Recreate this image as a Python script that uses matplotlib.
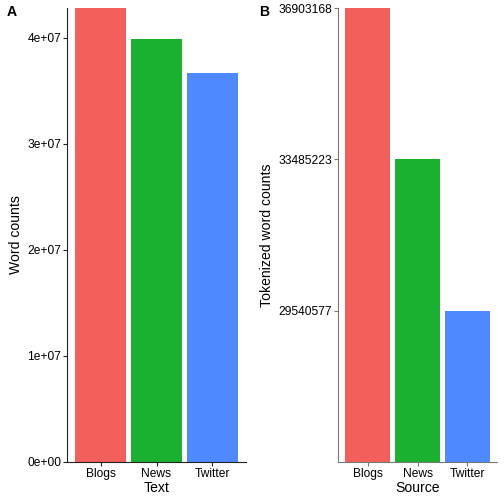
import matplotlib
matplotlib.use("Agg")
import matplotlib.pyplot as plt

plt.rcParams['font.family'] = ['Liberation Sans', 'DejaVu Sans']

sources = ["Blogs", "News", "Twitter"]
word_counts = [42.8e6, 39.9e6, 36.7e6]
tokenized_counts = [36903168, 33485223, 29540577]
colors = ["#F35F5B", "#19B12F", "#4F89FF"]
a_ticks = [0, 1e7, 2e7, 3e7, 4e7]
a_ticklabels = ["0e+00", "1e+07", "2e+07", "3e+07", "4e+07"]

W = H = 504
fig = plt.figure(figsize=(7, 7), dpi=72)

def ax_rect(l, r, t, b):
    return [l / W, 1 - b / H, (r - l) / W, (b - t) / H]

def style(ax, axcol):
    for s in ["top", "right"]:
        ax.spines[s].set_visible(False)
    for s in ["left", "bottom"]:
        ax.spines[s].set_color(axcol)
        ax.spines[s].set_linewidth(1.1)
    ax.tick_params(axis="both", colors=axcol, length=4, width=1.1,
                   labelsize=12, labelcolor="black", pad=2)

x = list(range(1, len(sources) + 1))

# Panel A
axA = fig.add_axes(ax_rect(67, 246, 8, 462))
axA.bar(x, word_counts, width=0.9, color=colors)
axA.set_xlim(0.4, 3.6)
axA.set_ylim(0, max(word_counts))
axA.set_yticks(a_ticks)
axA.set_yticklabels(a_ticklabels)
axA.set_xticks(x)
axA.set_xticklabels(sources)
axA.set_xlabel("Text", fontsize=14, labelpad=1)
axA.set_ylabel("Word counts", fontsize=14, labelpad=4)
style(axA, "#222222")

# Panel B (discrete y scale)
ranks = [sorted(tokenized_counts).index(v) + 1 for v in tokenized_counts]
axB = fig.add_axes(ax_rect(338, 497, 8, 462))
axB.bar(x, ranks, width=0.9, color=colors)
axB.set_xlim(0.4, 3.6)
axB.set_ylim(0, max(ranks))
axB.set_yticks(ranks)
axB.set_yticklabels([str(v) for v in tokenized_counts])
axB.set_xticks(x)
axB.set_xticklabels(sources)
axB.set_xlabel("Source", fontsize=14, labelpad=1)
axB.set_ylabel("Tokenized word counts", fontsize=14, labelpad=4)
style(axB, "#777777")

fig.text(7 / W, 1 - 12 / H, "A", fontsize=14, fontweight="bold", va="center", ha="left")
fig.text(259 / W, 1 - 12 / H, "B", fontsize=14, fontweight="bold", va="center", ha="left")

fig.savefig("out.png", dpi=72)
